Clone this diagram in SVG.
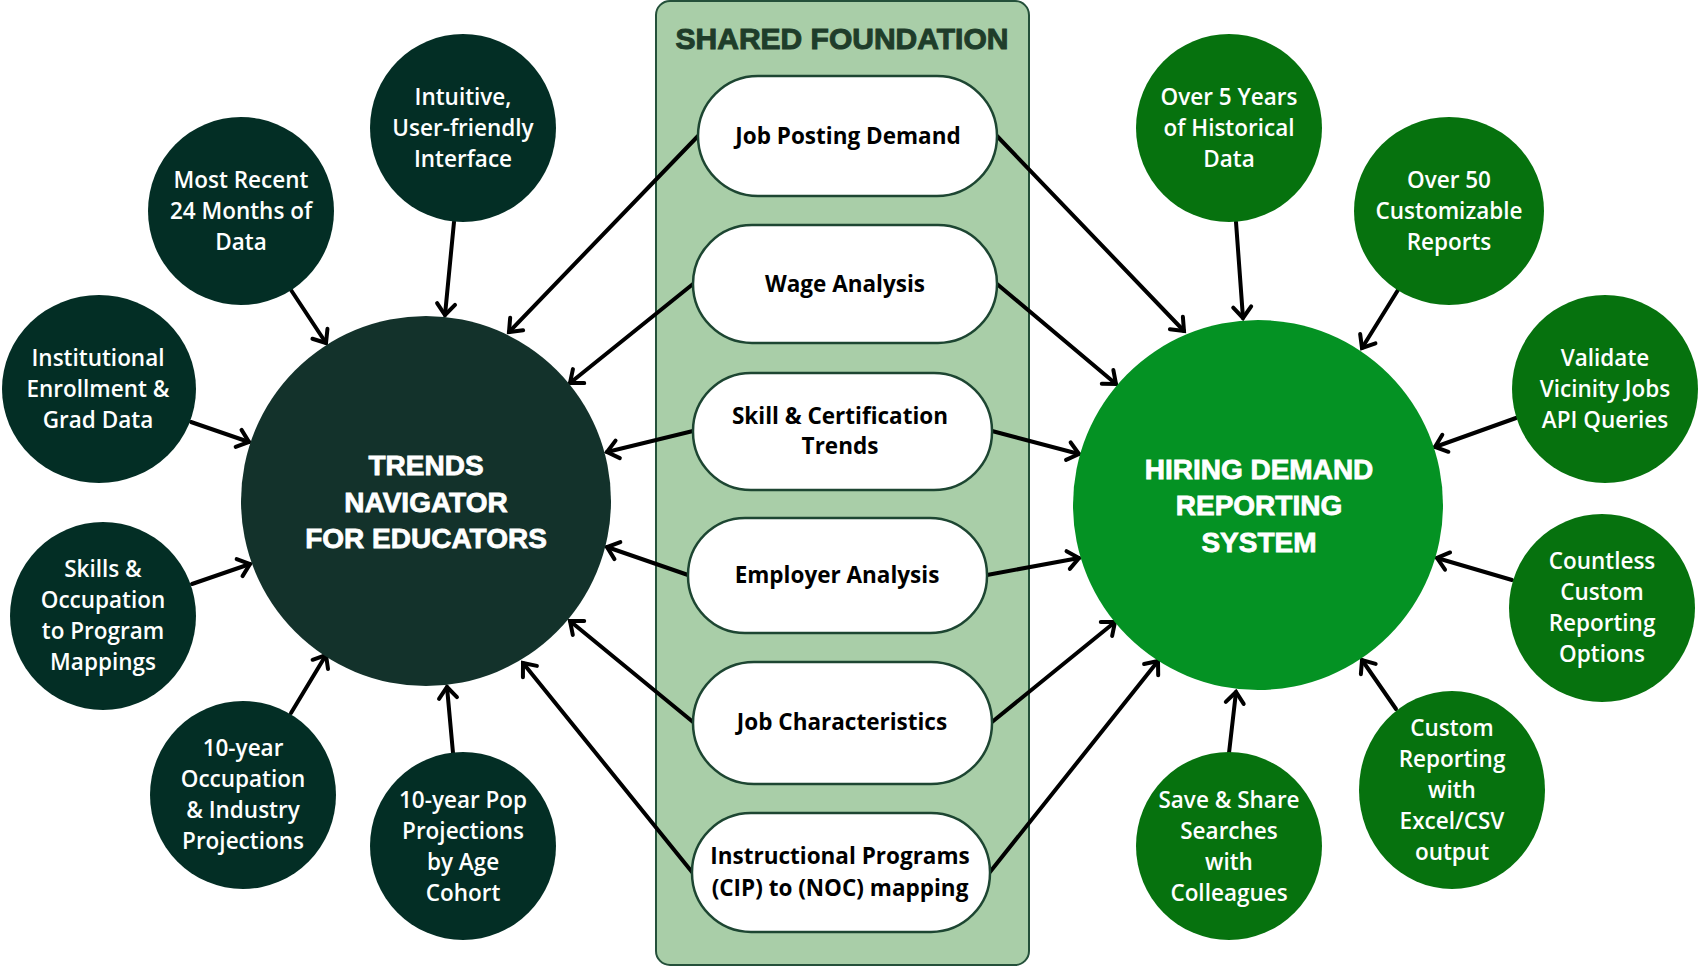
<svg xmlns="http://www.w3.org/2000/svg" width="1699" height="967" viewBox="0 0 1699 967">
<style>
.sd{fill:#032e25}
.sg{fill:#06720e}
.st{fill:#ffffff;font-family:"Open Sans","Liberation Sans",sans-serif;font-weight:600;font-size:22.5px;text-anchor:middle}
.bt{fill:#ffffff;stroke:#ffffff;stroke-width:0.8;font-family:"Liberation Sans",Arial,sans-serif;font-weight:700;font-size:28px;text-anchor:middle}
.pill{fill:#ffffff;stroke:#1d4632;stroke-width:2.5}
.pt{fill:#000000;font-family:"Open Sans","Liberation Sans",sans-serif;font-weight:700;font-size:22.5px;text-anchor:middle}
.ar{stroke:#000000;stroke-width:4;fill:none;stroke-linecap:round;marker-end:url(#ah)}
</style>
<defs>
<marker id="ah" markerUnits="userSpaceOnUse" markerWidth="24" markerHeight="24" viewBox="0 0 24 24" refX="20" refY="12" orient="auto">
<path d="M9,3 L20,12 L9,21" fill="none" stroke="#000000" stroke-width="4" stroke-linecap="round" stroke-linejoin="miter"/>
</marker>
</defs>
<rect width="1699" height="967" fill="#ffffff"/>

<g id="panel">
<rect x="656" y="1" width="373" height="964" rx="14" fill="#a9cea8" stroke="#24503a" stroke-width="2"/>
<text x="842" y="49" fill="#1f3d2a" stroke="#1f3d2a" stroke-width="1" font-family="'Liberation Sans',Arial,sans-serif" font-weight="700" font-size="30" text-anchor="middle">SHARED FOUNDATION</text>
</g>

<g id="connectors">
<line class="ar" x1="454" y1="222" x2="445" y2="315"/>
<line class="ar" x1="291" y1="290" x2="326" y2="343"/>
<line class="ar" x1="191" y1="422" x2="249" y2="442"/>
<line class="ar" x1="192" y1="584" x2="250" y2="564"/>
<line class="ar" x1="291" y1="713" x2="326" y2="655"/>
<line class="ar" x1="453" y1="753" x2="447" y2="687"/>
<line class="ar" x1="698" y1="136" x2="509" y2="332"/>
<line class="ar" x1="693" y1="284" x2="570" y2="383"/>
<line class="ar" x1="693" y1="431" x2="607" y2="452"/>
<line class="ar" x1="688" y1="575" x2="607" y2="547"/>
<line class="ar" x1="693" y1="722" x2="570" y2="621"/>
<line class="ar" x1="692" y1="872" x2="523" y2="663"/>
<line class="ar" x1="997" y1="136" x2="1184" y2="331"/>
<line class="ar" x1="997" y1="284" x2="1116" y2="384"/>
<line class="ar" x1="992" y1="431" x2="1079" y2="454"/>
<line class="ar" x1="987" y1="575" x2="1079" y2="558"/>
<line class="ar" x1="992" y1="722" x2="1115" y2="622"/>
<line class="ar" x1="990" y1="872" x2="1158" y2="661"/>
<line class="ar" x1="1236" y1="222" x2="1243" y2="318"/>
<line class="ar" x1="1398" y1="290" x2="1362" y2="348"/>
<line class="ar" x1="1516" y1="418" x2="1435" y2="447"/>
<line class="ar" x1="1512" y1="580" x2="1437" y2="558"/>
<line class="ar" x1="1396" y1="709" x2="1362" y2="660"/>
<line class="ar" x1="1229" y1="753" x2="1236" y2="692"/>
</g>

<g id="trends-navigator">
<circle cx="426" cy="501" r="185" fill="#13322b"/>
<text class="bt" x="426" y="475">TRENDS</text>
<text class="bt" x="426" y="512">NAVIGATOR</text>
<text class="bt" x="426" y="548">FOR EDUCATORS</text>
</g>

<g id="hiring-demand">
<circle cx="1258" cy="505" r="185" fill="#049223"/>
<text class="bt" x="1259" y="479">HIRING DEMAND</text>
<text class="bt" x="1259" y="515">REPORTING</text>
<text class="bt" x="1259" y="552">SYSTEM</text>
</g>

<g id="intuitive">
<ellipse class="sd" cx="463" cy="128" rx="93" ry="94"/>
<text class="st" x="463" y="105">Intuitive,</text>
<text class="st" x="463" y="136">User-friendly</text>
<text class="st" x="463" y="167">Interface</text>
</g>
<g id="most-recent">
<ellipse class="sd" cx="241" cy="211" rx="93" ry="94"/>
<text class="st" x="241" y="188">Most Recent</text>
<text class="st" x="241" y="219">24 Months of</text>
<text class="st" x="241" y="250">Data</text>
</g>
<g id="institutional">
<ellipse class="sd" cx="99" cy="389" rx="97" ry="94"/>
<text class="st" x="98" y="366">Institutional</text>
<text class="st" x="98" y="397">Enrollment &amp;</text>
<text class="st" x="98" y="428">Grad Data</text>
</g>
<g id="skills-mapping">
<ellipse class="sd" cx="103" cy="616" rx="93" ry="94"/>
<text class="st" x="103" y="577">Skills &amp;</text>
<text class="st" x="103" y="608">Occupation</text>
<text class="st" x="103" y="639">to Program</text>
<text class="st" x="103" y="670">Mappings</text>
</g>
<g id="occ-projections">
<ellipse class="sd" cx="243" cy="795" rx="93" ry="94"/>
<text class="st" x="243" y="756">10-year</text>
<text class="st" x="243" y="787">Occupation</text>
<text class="st" x="243" y="818">&amp; Industry</text>
<text class="st" x="243" y="849">Projections</text>
</g>
<g id="pop-projections">
<ellipse class="sd" cx="463" cy="846" rx="93" ry="94"/>
<text class="st" x="463" y="808">10-year Pop</text>
<text class="st" x="463" y="839">Projections</text>
<text class="st" x="463" y="870">by Age</text>
<text class="st" x="463" y="901">Cohort</text>
</g>

<g id="historical">
<ellipse class="sg" cx="1229" cy="128" rx="93" ry="94"/>
<text class="st" x="1229" y="105">Over 5 Years</text>
<text class="st" x="1229" y="136">of Historical</text>
<text class="st" x="1229" y="167">Data</text>
</g>
<g id="customizable">
<ellipse class="sg" cx="1449" cy="211" rx="95" ry="94"/>
<text class="st" x="1449" y="188">Over 50</text>
<text class="st" x="1449" y="219">Customizable</text>
<text class="st" x="1449" y="250">Reports</text>
</g>
<g id="validate">
<ellipse class="sg" cx="1605" cy="389" rx="93" ry="94"/>
<text class="st" x="1605" y="366">Validate</text>
<text class="st" x="1605" y="397">Vicinity Jobs</text>
<text class="st" x="1605" y="428">API Queries</text>
</g>
<g id="countless">
<ellipse class="sg" cx="1602" cy="608" rx="93" ry="94"/>
<text class="st" x="1602" y="569">Countless</text>
<text class="st" x="1602" y="600">Custom</text>
<text class="st" x="1602" y="631">Reporting</text>
<text class="st" x="1602" y="662">Options</text>
</g>
<g id="excel-csv">
<ellipse class="sg" cx="1452" cy="790" rx="93" ry="99"/>
<text class="st" x="1452" y="736">Custom</text>
<text class="st" x="1452" y="767">Reporting</text>
<text class="st" x="1452" y="798">with</text>
<text class="st" x="1452" y="829">Excel/CSV</text>
<text class="st" x="1452" y="860">output</text>
</g>
<g id="save-share">
<ellipse class="sg" cx="1229" cy="846" rx="93" ry="94"/>
<text class="st" x="1229" y="808">Save &amp; Share</text>
<text class="st" x="1229" y="839">Searches</text>
<text class="st" x="1229" y="870">with</text>
<text class="st" x="1229" y="901">Colleagues</text>
</g>

<g id="job-posting">
<rect class="pill" x="698" y="76" width="299" height="120" rx="60"/>
<text class="pt" x="848" y="144">Job Posting Demand</text>
</g>
<g id="wage">
<rect class="pill" x="693" y="225" width="304" height="118" rx="59"/>
<text class="pt" x="845" y="292">Wage Analysis</text>
</g>
<g id="skill-cert">
<rect class="pill" x="693" y="373" width="299" height="117" rx="58"/>
<text class="pt" x="840" y="424">Skill &amp; Certification</text>
<text class="pt" x="840" y="454">Trends</text>
</g>
<g id="employer">
<rect class="pill" x="688" y="518" width="299" height="115" rx="57"/>
<text class="pt" x="837" y="583">Employer Analysis</text>
</g>
<g id="job-char">
<rect class="pill" x="693" y="662" width="299" height="122" rx="61"/>
<text class="pt" x="842" y="730">Job Characteristics</text>
</g>
<g id="instructional">
<rect class="pill" x="692" y="813" width="298" height="119" rx="59"/>
<text class="pt" x="840" y="864">Instructional Programs</text>
<text class="pt" x="840" y="896">(CIP) to (NOC) mapping</text>
</g>
</svg>
